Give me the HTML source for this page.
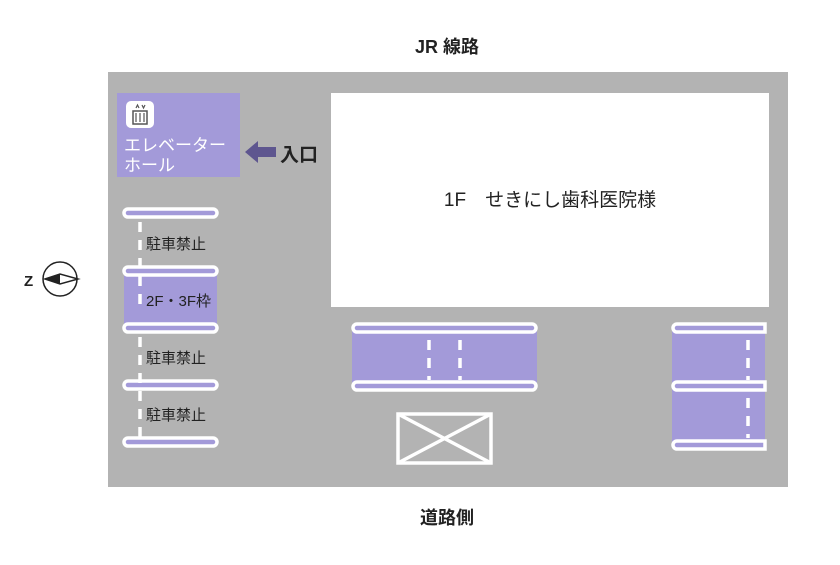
<!DOCTYPE html><html><head><meta charset="utf-8"><style>body{margin:0;background:#fff}svg text{font-family:"Liberation Sans","Noto Sans CJK JP",sans-serif}</style></head><body>
<svg width="840" height="560" viewBox="0 0 840 560" xmlns="http://www.w3.org/2000/svg">
<rect width="840" height="560" fill="#fff"/>
<text x="447" y="53" font-size="18" text-anchor="middle" font-weight="bold" fill="#222">JR 線路</text>
<text x="447" y="524" font-size="18" text-anchor="middle" font-weight="bold" fill="#222">道路側</text>
<rect x="108" y="72" width="680" height="415" fill="#b3b3b3"/>
<rect x="331" y="93" width="438" height="214" fill="#fff"/>
<text x="550" y="206" font-size="19" text-anchor="middle" fill="#222">1F　せきにし歯科医院様</text>
<rect x="117" y="93" width="123" height="84" fill="#a39ad9"/>
<rect x="126" y="101" width="28" height="27" rx="5" fill="#fff"/>
<rect x="133" y="111" width="14" height="13" fill="none" stroke="#555" stroke-width="1.5"/>
<path d="M136 113v9M140 113v9M144 113v9M136 108l1.5-3 1.5 3M142 105l1.5 3 1.5-3" stroke="#555" stroke-width="1.2" fill="none"/>
<text x="124" y="151" font-size="17" fill="#fff">エレベーター</text>
<text x="124" y="171" font-size="17" fill="#fff">ホール</text>
<path d="M245 152l13-11v6h18v10h-18v6z" fill="#5e568f"/>
<text x="280" y="161" font-size="19" font-weight="bold" fill="#222">入口</text>
<circle cx="60" cy="279" r="17" fill="#fff" stroke="#222" stroke-width="1.5"/>
<path d="M45 279l15-5 18 5-18 5z" fill="#fff" stroke="#222" stroke-width="1.5"/>
<path d="M45 279l15-5v10z" fill="#222"/>
<text x="24" y="286" font-size="15" font-weight="bold" fill="#222">Z</text>
<g fill="#a39ad9" stroke="#fff" stroke-width="3.5">
<rect x="124" y="271" width="93" height="57" stroke="none"/>
<rect x="352" y="328" width="185" height="58" stroke="none"/>
<rect x="672" y="328" width="93" height="117" stroke="none"/>
<rect x="124" y="209" width="93" height="8" rx="4"/>
<rect x="124" y="267" width="93" height="8" rx="4"/>
<rect x="124" y="324" width="93" height="8" rx="4"/>
<rect x="124" y="381" width="93" height="8" rx="4"/>
<rect x="124" y="438" width="93" height="8" rx="4"/>
<path d="M140 222v82M140 337v100" stroke-dasharray="10 8" fill="none"/>
<rect x="353" y="324" width="183" height="8" rx="4"/>
<rect x="353" y="382" width="183" height="8" rx="4"/>
<path d="M429 340v40M460 340v40" stroke-dasharray="10 8" fill="none"/>
<path d="M677 324h88v8h-88a4 4 0 0 1 0-8zM677 382h88v8h-88a4 4 0 0 1 0-8zM677 441h88v8h-88a4 4 0 0 1 0-8z"/>
<path d="M748 340v40M748 398v40" stroke-dasharray="10 8" fill="none"/>
<rect x="398" y="414" width="93" height="49" fill="none"/>
<path d="M398 414l93 49M491 414l-93 49" fill="none"/>
</g>
<text x="146" y="249" font-size="15" fill="#222">駐車禁止</text>
<text x="146" y="306" font-size="15" fill="#222">2F・3F枠</text>
<text x="146" y="363" font-size="15" fill="#222">駐車禁止</text>
<text x="146" y="420" font-size="15" fill="#222">駐車禁止</text>
</svg></body></html>
